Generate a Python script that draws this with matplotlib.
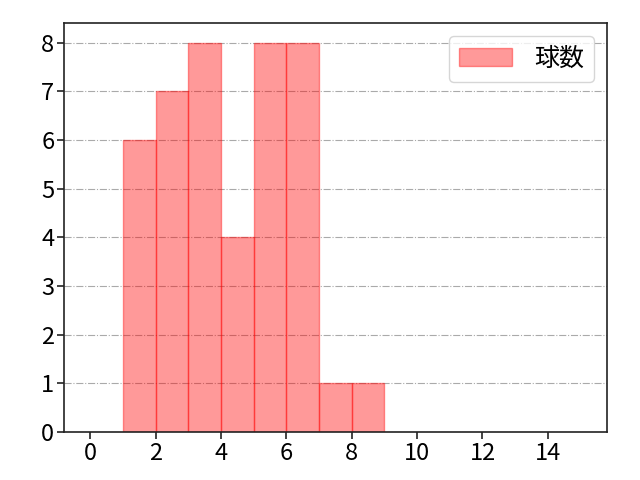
import matplotlib
matplotlib.use("Agg")
import matplotlib.pyplot as plt

plt.rcParams['font.family'] = ['Noto Sans CJK JP', 'DejaVu Sans']

bin_left = [1, 2, 3, 4, 5, 6, 7, 8]
counts = [6, 7, 8, 4, 8, 8, 1, 1]
xticks = [0, 2, 4, 6, 8, 10, 12, 14]

fig = plt.figure(figsize=(6.4, 4.8), dpi=100)
ax = fig.add_axes([0.1, 0.1, 0.848, 0.852])

ax.bar(bin_left, counts, width=1, align='edge', color='red', alpha=0.4,
       edgecolor='red', linewidth=1, label='球数')

ax.set_xlim(-0.8, 15.8)
ax.set_ylim(0, 8.4)
ax.set_xticks(xticks)
ax.set_yticks(range(0, 9))
ax.tick_params(labelsize=17, width=1.2, length=5, color='#222222', pad=2)
for s in ax.spines.values():
    s.set_linewidth(1.2)
    s.set_color('#222222')
ax.grid(axis='y', linestyle='-.', color='#aaaaaa', linewidth=0.8)
ax.set_axisbelow(True)
ax.legend(loc='upper right', fontsize=18, handlelength=2.1, handletextpad=0.9,
          borderpad=0.4)

fig.savefig('out.png', dpi=100)
